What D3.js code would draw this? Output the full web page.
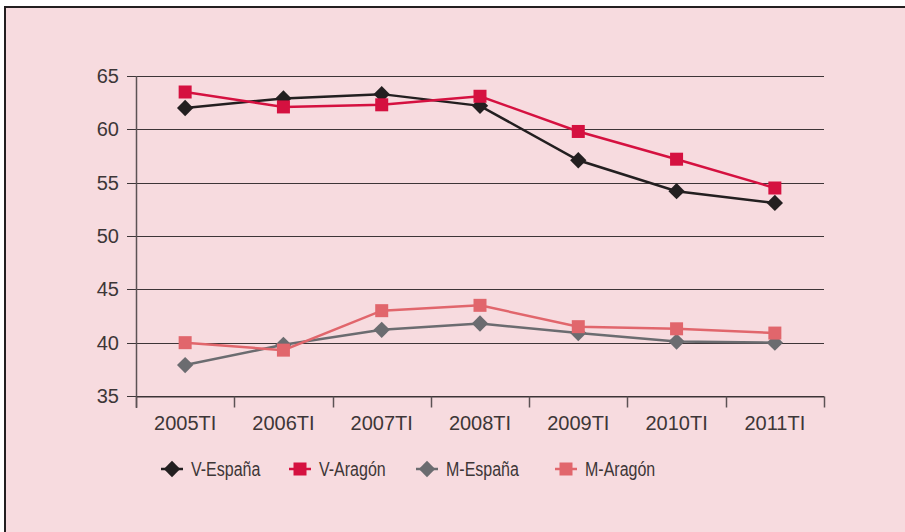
<!DOCTYPE html>
<html>
<head>
<meta charset="utf-8">
<script src="https://cdn.jsdelivr.net/npm/d3@7"></script>
<style>
  html, body { margin: 0; padding: 0; background: #fff; }
  svg { display: block; }
  text { font-family: "Liberation Sans", Arial, sans-serif; fill: #3d3637; }
</style>
</head>
<body>
<div id="chart"></div>
<script>
// datos
const periodos = ['2005TI', '2006TI', '2007TI', '2008TI', '2009TI', '2010TI', '2011TI'];
const vEspana = [62.0, 62.9, 63.3, 62.2, 57.1, 54.2, 53.1];
const vAragon = [63.5, 62.1, 62.3, 63.1, 59.8, 57.2, 54.5];
const mEspana = [37.9, 39.8, 41.2, 41.8, 40.9, 40.1, 40.0];
const mAragon = [40.0, 39.3, 43.0, 43.5, 41.5, 41.3, 40.9];
const yTicks = [35, 40, 45, 50, 55, 60, 65];

const series = [
  { name: 'V-España', values: vEspana, color: '#231f20', shape: 'diamond' },
  { name: 'V-Aragón', values: vAragon, color: '#d51140', shape: 'square' },
  { name: 'M-España', values: mEspana, color: '#6b6c70', shape: 'diamond' },
  { name: 'M-Aragón', values: mAragon, color: '#e1666c', shape: 'square' }
];

const width = 905, height = 532;
const margin = { top: 76, right: 81, bottom: 136, left: 136 };

const svg = d3.select('#chart').append('svg')
  .attr('width', width)
  .attr('height', height);

// fondo con marco
svg.append('rect')
  .attr('x', 5).attr('y', 7)
  .attr('width', width).attr('height', height)
  .attr('fill', '#f7dbdf')
  .attr('stroke', '#231f20')
  .attr('stroke-width', 2);

const x = d3.scaleBand()
  .domain(periodos)
  .range([margin.left, width - margin.right]);

const y = d3.scaleLinear()
  .domain([35, 65])
  .range([height - margin.bottom, margin.top]);

// rejilla
svg.append('g')
  .selectAll('line')
  .data(yTicks)
  .enter()
  .append('line')
  .attr('x1', margin.left - 9)
  .attr('x2', width - margin.right)
  .attr('y1', d => Math.round(y(d)) + 0.5)
  .attr('y2', d => Math.round(y(d)) + 0.5)
  .attr('stroke', '#3d3537')
  .attr('stroke-width', 1.2);

// eje y
svg.append('line')
  .attr('x1', margin.left + 0.5).attr('x2', margin.left + 0.5)
  .attr('y1', y(65)).attr('y2', y(35) + 12)
  .attr('stroke', '#5c5254')
  .attr('stroke-width', 1.5);

svg.append('g')
  .selectAll('text')
  .data(yTicks)
  .enter()
  .append('text')
  .attr('x', margin.left - 17)
  .attr('y', d => y(d) + 7)
  .attr('text-anchor', 'end')
  .style('font-size', '20px')
  .text(d => d);

// eje x
const xAxis = svg.append('g')
  .attr('transform', `translate(0, ${Math.round(y(35)) + 0.5})`)
  .call(d3.axisBottom(x).tickSize(0).tickPadding(19));
xAxis.select('.domain').attr('stroke', '#3d3537').attr('stroke-width', 1.2);
xAxis.selectAll('text')
  .style('font-size', '20px')
  .style('font-family', '"Liberation Sans", Arial, sans-serif')
  .attr('fill', '#3d3637');

const bounds = periodos.map(p => x(p)).concat([x.range()[1]]);
xAxis.selectAll('.sep')
  .data(bounds)
  .enter()
  .append('line')
  .attr('class', 'sep')
  .attr('x1', d => Math.round(d) + 0.5)
  .attr('x2', d => Math.round(d) + 0.5)
  .attr('y1', 0)
  .attr('y2', 11)
  .attr('stroke', '#5c5254')
  .attr('stroke-width', 1.5);

const cx = p => x(p) + x.bandwidth() / 2;

const line = d3.line()
  .x((d, i) => cx(periodos[i]))
  .y(d => y(d));

function drawMarker(g, shape, color) {
  if (shape === 'diamond') {
    g.append('path')
      .attr('d', d3.symbol(d3.symbolDiamond2, 170)())
      .attr('fill', color);
  } else {
    g.append('rect')
      .attr('x', -6.5).attr('y', -6.5)
      .attr('width', 13).attr('height', 13)
      .attr('fill', color);
  }
}

series.forEach(s => {
  svg.append('path')
    .datum(s.values)
    .attr('fill', 'none')
    .attr('stroke', s.color)
    .attr('stroke-width', 2.5)
    .attr('d', line);

  s.values.forEach((v, i) => {
    const g = svg.append('g')
      .attr('transform', `translate(${cx(periodos[i])}, ${y(v)})`);
    drawMarker(g, s.shape, s.color);
  });
});

// leyenda
const legendX = [161, 289, 416, 555];
const legend = svg.append('g')
  .attr('transform', 'translate(0, 469)');

series.forEach((s, i) => {
  const item = legend.append('g')
    .attr('transform', `translate(${legendX[i]}, 0)`);
  item.append('line')
    .attr('x1', 0).attr('x2', 22)
    .attr('y1', 0).attr('y2', 0)
    .attr('stroke', s.color)
    .attr('stroke-width', 2.5);
  const m = item.append('g').attr('transform', 'translate(11, 0)');
  drawMarker(m, s.shape, s.color);
  // texto algo más estrecho, como en el original
  item.append('text')
    .attr('transform', 'translate(30, 7) scale(0.8, 1)')
    .style('font-size', '20px')
    .text(s.name);
});
</script>
</body>
</html>
